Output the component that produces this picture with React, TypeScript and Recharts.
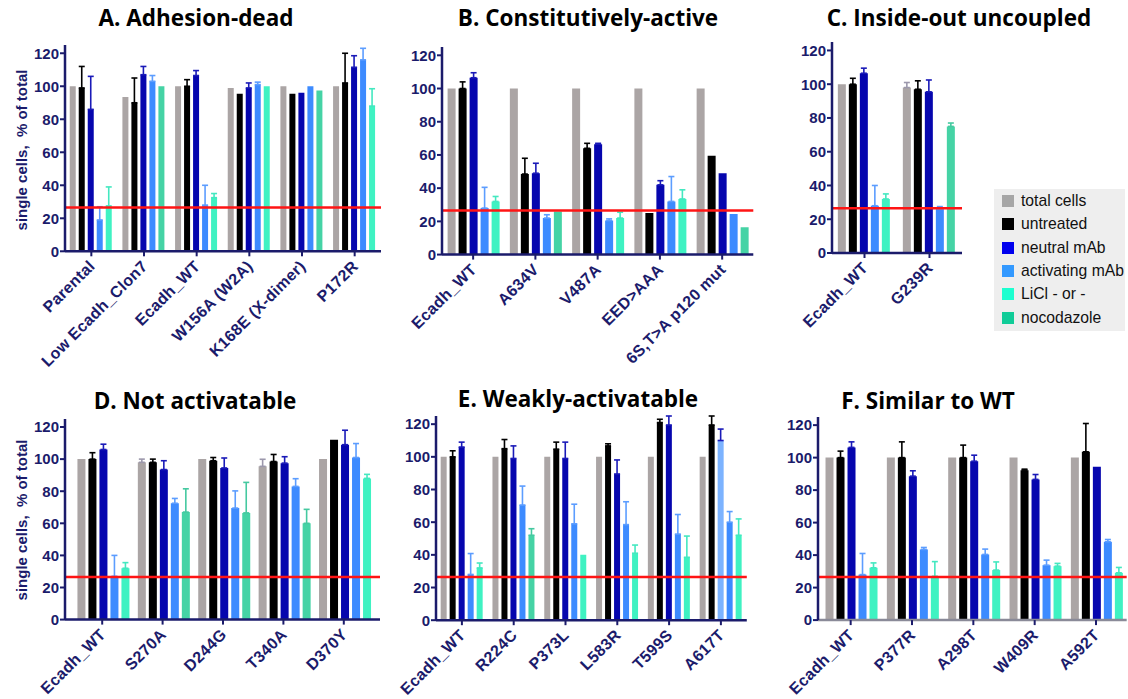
import { BarChart, Bar, XAxis, YAxis, ErrorBar, ReferenceLine, Cell } from 'recharts';

// series order: total cells, untreated, neutral mAb, activating mAb, LiCl, nocodazole
const SERIES = ['total cells', 'untreated', 'neutral mAb', 'activating mAb', 'LiCl - or -', 'nocodazole'];
const KEYS = ['total', 'untreated', 'neutral', 'activating', 'licl', 'noco'];
// LiCl and nocodazole share one slot (each group shows one or the other)
const STACKS = ['s0', 's1', 's2', 's3', 'drug', 'drug'];
const BAR_COLORS = ['#aba5a5', '#000000', '#0606ae', '#3d8bff', '#3ff2c2', '#45d3a5'];
const ERR_COLORS = ['#9c98ac', '#000000', '#1a1ab8', '#5c9dff', '#44e8c0', '#45c9a0'];
const LEGEND_COLORS = ['#a6a6a6', '#000000', '#0000ee', '#3399ff', '#1cffd0', '#10cc98'];
const LIGHT_NEUTRAL = '#7cb3ff';

const yTicks = [0, 20, 40, 60, 80, 100, 120];
const cutoff = 26.5;

// A. Adhesion-dead
const catsA = ['Parental', 'Low Ecadh_Clon7', 'Ecadh_WT', 'W156A (W2A)', 'K168E (X-dimer)', 'P172R'];
const valsA = [
  [100, 99, 86, 19, 27.5, null],
  [93.5, 90, 107, 103, null, 100],
  [100, 100, 106.5, 28, 32.5, null],
  [99, 95.5, 99, 101, 100, null],
  [100, 95.5, 96, 100, null, 97.5],
  [100, 102, 111.5, 116, 88, null],
];
const errsA = [
  [0, 13, 20, 8, 11.5, 0],
  [0, 15, 5, 3.5, 0, 0],
  [0, 4, 3, 12, 2.5, 0],
  [0, 0, 3, 1.5, 0, 0],
  [0, 0, 0, 0, 0, 0],
  [0, 18, 7, 7, 10.5, 0],
];

// B. Constitutively-active
const catsB = ['Ecadh_WT', 'A634V', 'V487A', 'EED>AAA', '6S,T>A p120 mut'];
const valsB = [
  [100, 100, 106.5, 28, 32, null],
  [100, 48.5, 49, 22, null, 26],
  [100, 64, 66.5, 20.5, 22, null],
  [100, 25, 42, 32, 33.5, null],
  [100, 59.5, 49, 24.5, null, 16.5],
];
const errsB = [
  [0, 4, 3, 12.5, 3, 0],
  [0, 9.5, 6, 2, 0, 0],
  [0, 3, 0.5, 1, 3.5, 0],
  [0, 0, 2.5, 15, 5.5, 0],
  [0, 0, 0, 0, 0, 0],
];

// C. Inside-out uncoupled
const catsC = ['Ecadh_WT', 'G239R'];
const valsC = [
  [100, 100, 106.5, 28, 32, null],
  [98, 97, 95.5, 26, null, 75],
];
const errsC = [
  [0, 3.5, 3, 12, 3, 0],
  [3, 5, 7, 1.5, 0, 2],
];

// D. Not activatable
const catsD = ['Ecadh_WT', 'S270A', 'D244G', 'T340A', 'D370Y'];
const valsD = [
  [100, 100, 106, 27, 32, null],
  [98, 98, 93.5, 72.5, null, 67],
  [100, 99, 94.5, 69.5, null, 66.5],
  [95.5, 98.5, 97.5, 83, null, 60],
  [100, 112, 109, 101, 88, null],
];
const errsD = [
  [0, 4, 3.3, 13, 3.5, 0],
  [2, 2, 5.5, 3, 0, 14.5],
  [0, 2, 6.2, 10.7, 0, 19],
  [4.4, 4.4, 4, 4.8, 0, 8.7],
  [0, 0, 9, 8.7, 2.5, 0],
];

// E. Weakly-activatable
const catsE = ['Ecadh_WT', 'R224C', 'P373L', 'L583R', 'T599S', 'A617T'];
const valsE = [
  [100, 100, 106, 28, 32, null],
  [100, 105, 99, 70.5, null, 52],
  [100, 104.7, 99, 59, 40, null],
  [100, 106.7, 89.5, 58.5, 41, null],
  [100, 121, 119.5, 52.7, 38.5, null],
  [100, 119.5, 110, 60, 52, null],
];
const errsE = [
  [0, 3.7, 3, 12.8, 3, 0],
  [0, 5.6, 7.7, 11.6, 0, 4],
  [0, 4.3, 10, 12, 0, 0],
  [0, 1.3, 8.6, 14, 5, 0],
  [0, 2, 5.5, 12, 13, 0],
  [0, 5.5, 7, 6.5, 10, 0],
];
const lightE = ['A617T'];

// F. Similar to WT
const catsF = ['Ecadh_WT', 'P377R', 'A298T', 'W409R', 'A592T'];
const valsF = [
  [100, 100, 106.3, 28, 32.2, null],
  [100, 100, 88.6, 43.5, 27, null],
  [100, 100, 97.8, 40.4, 30.8, null],
  [100, 92.3, 86.6, 33.8, 33.2, null],
  [100, 103.6, 94.4, 48.2, 29.1, null],
];
const errsF = [
  [0, 4, 3.4, 13, 3, 0],
  [0, 9.7, 3.3, 1.2, 9, 0],
  [0, 7.7, 3.7, 3.3, 5, 0],
  [0, 0.6, 3, 3.1, 1.7, 0],
  [0, 17.4, 0, 1.4, 3.3, 0],
];

const NAVY = '#1b1b6b';
const FONT = '"Liberation Sans", Arial, sans-serif';

function buildRows(cats: string[], vals: (number | null)[][], errs: number[][], light: string[] = []) {
  return cats.map((name, i) => {
    const row: any = { name, light: light.includes(name) };
    KEYS.forEach((k, j) => {
      row[k] = vals[i][j];
      const e = errs[i][j];
      row[k + 'Err'] = vals[i][j] != null && e ? [0, e] : undefined;
    });
    return row;
  });
}

const AngledTick = (props: any) => {
  const { x, y, payload } = props;
  return (
    <g transform={`translate(${x + 0.5},${y + 5}) rotate(-45)`}>
      <text
        x={0}
        y={0}
        dy="0.35em"
        textAnchor="end"
        fill={NAVY}
        fontSize={16}
        fontWeight={700}
        letterSpacing={0.3}
        fontFamily={FONT}
      >
        {payload.value}
      </text>
    </g>
  );
};

const YW = 42;
const MT = 6;
const MR = 6;
const XH = 120;

interface PanelProps {
  rows: any[];
  axisX: number;
  right: number;
  top: number;
  bottom: number;
  pad?: [number, number];
  xStroke?: string;
}

function Panel({ rows, axisX, right, top, bottom, pad = [0, 0], xStroke = NAVY }: PanelProps) {
  const w = YW + (right - axisX) + MR;
  const h = MT + (bottom - top) + XH;
  return (
    <div style={{ position: 'absolute', left: axisX - YW, top: top - MT }}>
      <BarChart
        width={w}
        height={h}
        data={rows}
        margin={{ top: MT, right: MR, left: 0, bottom: 0 }}
        barCategoryGap="9%"
        barGap={3}
      >
        <XAxis
          dataKey="name"
          interval={0}
          height={XH}
          tick={<AngledTick />}
          tickSize={5}
          padding={{ left: pad[0], right: pad[1] }}
          axisLine={{ stroke: xStroke, strokeWidth: 2.5 }}
          tickLine={{ stroke: NAVY, strokeWidth: 2 }}
        />
        <YAxis
          width={YW}
          domain={[0, 125]}
          ticks={yTicks}
          tickSize={5}
          tickMargin={1}
          allowDataOverflow
          axisLine={{ stroke: NAVY, strokeWidth: 2.5 }}
          tickLine={{ stroke: NAVY, strokeWidth: 2 }}
          tick={{ fill: NAVY, fontSize: 15, fontWeight: 700, fontFamily: FONT }}
        />
        {KEYS.map((k, j) => (
          <Bar
            key={k}
            dataKey={k}
            fill={BAR_COLORS[j]}
            stackId={STACKS[j]}
            isAnimationActive={false}
          >
            {k === 'neutral' &&
              rows.map((r, i) => <Cell key={i} fill={r.light ? LIGHT_NEUTRAL : BAR_COLORS[j]} />)}
            <ErrorBar
              dataKey={k + 'Err'}
              direction="y"
              width={3}
              strokeWidth={1.6}
              stroke={ERR_COLORS[j]}
            />
          </Bar>
        ))}
        <ReferenceLine y={cutoff} stroke="#ff1414" strokeWidth={2.5} ifOverflow="extendDomain" />
      </BarChart>
    </div>
  );
}

const titleStyle = (cx: number, cy: number): React.CSSProperties => ({
  position: 'absolute',
  left: cx,
  top: cy,
  transform: 'translate(-50%, -50%)',
  whiteSpace: 'nowrap',
  fontFamily: '"Open Sans", sans-serif',
  fontWeight: 700,
  fontSize: 22.5,
  color: '#000',
});

const yLabelStyle = (cx: number, cy: number): React.CSSProperties => ({
  position: 'absolute',
  left: cx,
  top: cy,
  transform: 'translate(-50%, -50%) rotate(-90deg)',
  whiteSpace: 'pre',
  fontFamily: FONT,
  fontWeight: 700,
  fontSize: 15,
  color: NAVY,
});

export default function App() {
  const rowsA = buildRows(catsA, valsA, errsA);
  const rowsB = buildRows(catsB, valsB, errsB);
  const rowsC = buildRows(catsC, valsC, errsC);
  const rowsD = buildRows(catsD, valsD, errsD);
  const rowsE = buildRows(catsE, valsE, errsE, lightE);
  const rowsF = buildRows(catsF, valsF, errsF);

  return (
    <div
      style={{
        position: 'absolute',
        left: 0,
        top: 0,
        width: 1128,
        height: 699,
        overflow: 'hidden',
        background: '#fff',
        fontFamily: FONT,
      }}
    >
      <Panel rows={rowsA} axisX={65} right={381} top={44.7} bottom={251} />
      <Panel rows={rowsB} axisX={441.7} right={753} top={46.7} bottom={254.3} />
      <Panel rows={rowsC} axisX={831.7} right={961.7} top={42.3} bottom={253.3} />
      <Panel rows={rowsD} axisX={65} right={380} top={418.7} bottom={619.3} pad={[7, 6]} />
      <Panel rows={rowsE} axisX={435.7} right={746.5} top={415.8} bottom={620} />
      <Panel rows={rowsF} axisX={818.3} right={1127} top={416.9} bottom={620} pad={[2, 0]} xStroke="#8a8a98" />

      <div style={titleStyle(196, 17)}>A. Adhesion-dead</div>
      <div style={titleStyle(588, 17)}>B. Constitutively-active</div>
      <div style={titleStyle(959, 17)}>C. Inside-out uncoupled</div>
      <div style={titleStyle(195, 400)}>D. Not activatable</div>
      <div style={titleStyle(578, 398)}>E. Weakly-activatable</div>
      <div style={titleStyle(928, 400)}>F. Similar to WT</div>

      <div style={yLabelStyle(21, 150)}>single cells,  % of total</div>
      <div style={yLabelStyle(21, 520)}>single cells,  % of total</div>

      <div
        style={{
          position: 'absolute',
          left: 994,
          top: 189,
          width: 131,
          height: 142,
          background: '#eeeeee',
        }}
      >
        {SERIES.map((s, i) => (
          <div
            key={s}
            style={{
              position: 'absolute',
              left: 8,
              top: 12 + i * 23.3 - 9,
              height: 18,
              display: 'flex',
              alignItems: 'center',
              whiteSpace: 'nowrap',
            }}
          >
            <span
              style={{
                display: 'inline-block',
                width: 12,
                height: 12,
                background: LEGEND_COLORS[i],
                marginRight: 7,
              }}
            />
            <span style={{ fontSize: 15.7, color: '#111', fontFamily: FONT }}>{s}</span>
          </div>
        ))}
      </div>
    </div>
  );
}
